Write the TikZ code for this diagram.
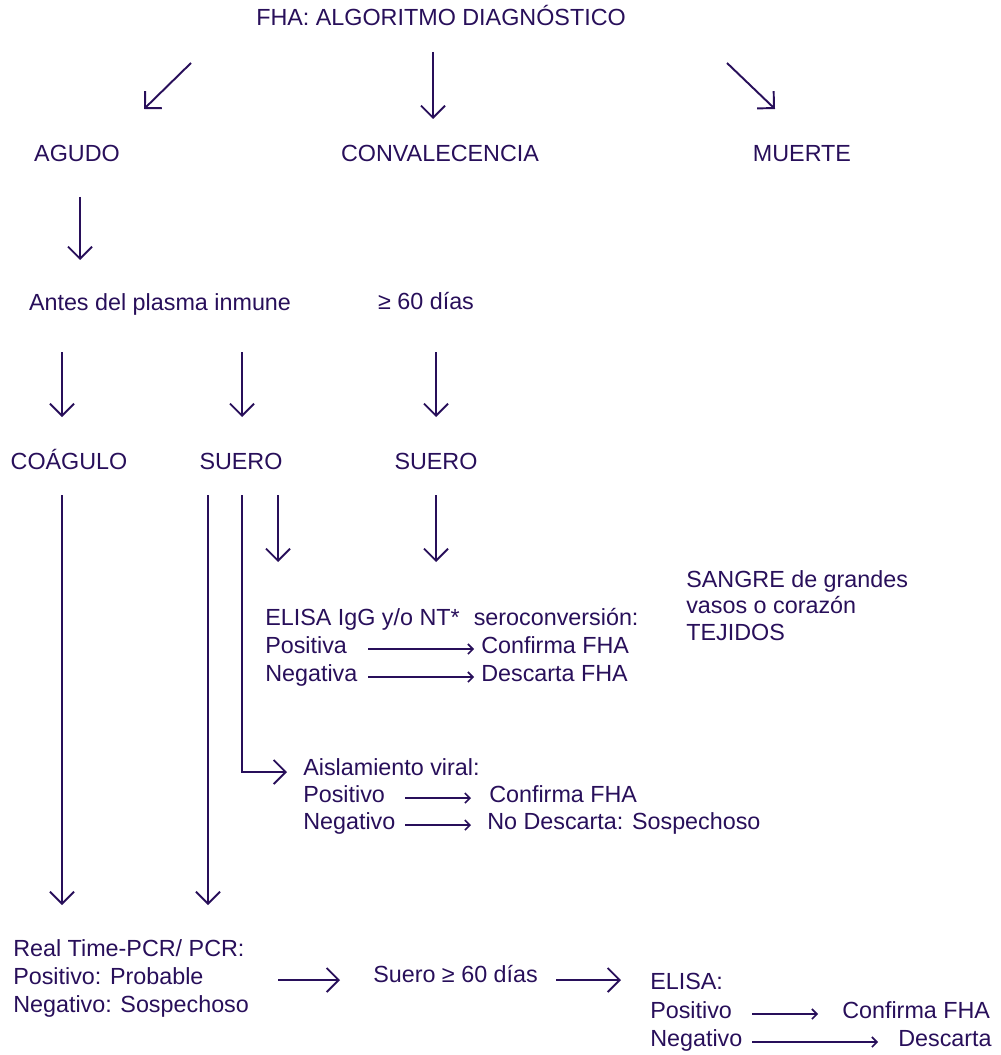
\documentclass[tikz,border=0pt]{standalone}
\usepackage{fontspec}
\setmainfont{Liberation Sans}
\usetikzlibrary{arrows.meta}
\definecolor{ink}{RGB}{40,15,90}
\begin{document}
\begin{tikzpicture}[x=0.75pt,y=-0.75pt,
  every node/.style={text=ink,inner sep=0pt,font=\fontsize{17.5}{21}\selectfont,
    text height=0.72em,text depth=0pt,yshift=-1.5pt},
  lbl/.style={anchor=west},
  ctr/.style={anchor=center},
  bigarrow/.style={draw=ink,line width=1.45pt,-{Straight Barb[angle=90:12.75pt,line width=1.45pt]}},
  smallarrow/.style={draw=ink,line width=1.2pt,-{Straight Barb[angle=90:5.25pt,line width=1.2pt]}}]
\useasboundingbox (0,0) rectangle (1000,1055);

% --- titles and stages
\node[ctr] (title) at (441,19) {FHA: ALGORITMO DIAGNÓSTICO};
\node[ctr] (agudo) at (77,155) {AGUDO};
\node[ctr] (conv) at (440,155) {CONVALECENCIA};
\node[ctr] (muerte) at (802,155) {MUERTE};
\node[ctr] (antes) at (160,304) {Antes del plasma inmune};
\node[ctr] (dias) at (426,303) {≥ 60 días};
\node[ctr] (coag) at (69,463) {COÁGULO};
\node[ctr] (suero1) at (241,463) {SUERO};
\node[ctr] (suero2) at (436,463) {SUERO};

% --- ELISA IgG block
\node[lbl] (elisaH) at (265,619) {ELISA IgG y/o NT*\hspace{0.6em}seroconversión:};
\node[lbl] (posA) at (265,647) {Positiva};
\node[lbl] (confA) at (481,647) {Confirma FHA};
\node[lbl] (negA) at (265,675) {Negativa};
\node[lbl] (descA) at (481,675) {Descarta FHA};

% --- death samples
\node[lbl] (sangre1) at (686,581) {SANGRE de grandes};
\node[lbl] (sangre2) at (686,607) {vasos o corazón};
\node[lbl] (tejidos) at (686,634) {TEJIDOS};

% --- viral isolation block
\node[lbl] (aisl) at (303,769) {Aislamiento viral:};
\node[lbl] (posB) at (303,796) {Positivo};
\node[lbl] (confB) at (489,796) {Confirma FHA};
\node[lbl] (negB) at (303,823) {Negativo};
\node[lbl] (nodesc) at (487,823) {No Descarta: Sospechoso};

% --- PCR and follow-up
\node[lbl] (pcr) at (13,950) {Real Time-PCR/ PCR:};
\node[lbl] (prob) at (13,978) {Positivo: Probable};
\node[lbl] (sosp) at (13,1006) {Negativo: Sospechoso};
\node[lbl] (sueroD) at (373,976) {Suero ≥ 60 días};
\node[lbl] (elisaC) at (650,983) {ELISA:};
\node[lbl] (posC) at (650,1012) {Positivo};
\node[lbl] (confC) at (842,1012) {Confirma FHA};
\node[lbl] (negC) at (650,1040) {Negativo};
\node[lbl] (descC) at (898,1040) {Descarta};

% --- connector end points
\coordinate (t1a) at (191,61);  \coordinate (t1b) at (144,107);
\coordinate (t2a) at (433,50);  \coordinate (t2b) at (433,117);
\coordinate (t3a) at (727,61);  \coordinate (t3b) at (775,107);
\coordinate (a1a) at (80,195);  \coordinate (a1b) at (80,258);
\coordinate (b1a) at (62,350);  \coordinate (b1b) at (62,415);
\coordinate (b2a) at (242,350); \coordinate (b2b) at (242,415);
\coordinate (b3a) at (436,350); \coordinate (b3b) at (436,415);
\coordinate (c1a) at (62,493);  \coordinate (c1b) at (62,903);
\coordinate (c2a) at (208,493); \coordinate (c2b) at (208,903);
\coordinate (c3a) at (242,493); \coordinate (c3m) at (242,770); \coordinate (c3b) at (287,770);
\coordinate (c4a) at (278,493); \coordinate (c4b) at (278,560);
\coordinate (c5a) at (436,493); \coordinate (c5b) at (436,560);
\coordinate (d1a) at (278,978); \coordinate (d1b) at (340,978);
\coordinate (d2a) at (556,978); \coordinate (d2b) at (621,978);
\coordinate (pa0) at (368,647); \coordinate (pa1) at (474,647);
\coordinate (na0) at (368,675); \coordinate (na1) at (474,675);
\coordinate (pb0) at (405,796); \coordinate (pb1) at (471,796);
\coordinate (nb0) at (405,823); \coordinate (nb1) at (471,823);
\coordinate (pc0) at (752,1012); \coordinate (pc1) at (818,1012);
\coordinate (nc0) at (752,1040); \coordinate (nc1) at (878,1040);

\draw[bigarrow] (t1a) -- (t1b);
\draw[bigarrow] (t2a) -- (t2b);
\draw[bigarrow] (t3a) -- (t3b);
\draw[bigarrow] (a1a) -- (a1b);
\draw[bigarrow] (b1a) -- (b1b);
\draw[bigarrow] (b2a) -- (b2b);
\draw[bigarrow] (b3a) -- (b3b);
\draw[bigarrow] (c1a) -- (c1b);
\draw[bigarrow] (c2a) -- (c2b);
\draw[bigarrow] (c3a) -- (c3m) -- (c3b);
\draw[bigarrow] (c4a) -- (c4b);
\draw[bigarrow] (c5a) -- (c5b);
\draw[bigarrow] (d1a) -- (d1b);
\draw[bigarrow] (d2a) -- (d2b);

% inline result arrows
\draw[smallarrow] (pa0) -- (pa1);
\draw[smallarrow] (na0) -- (na1);
\draw[smallarrow] (pb0) -- (pb1);
\draw[smallarrow] (nb0) -- (nb1);
\draw[smallarrow] (pc0) -- (pc1);
\draw[smallarrow] (nc0) -- (nc1);
\end{tikzpicture}
\end{document}
